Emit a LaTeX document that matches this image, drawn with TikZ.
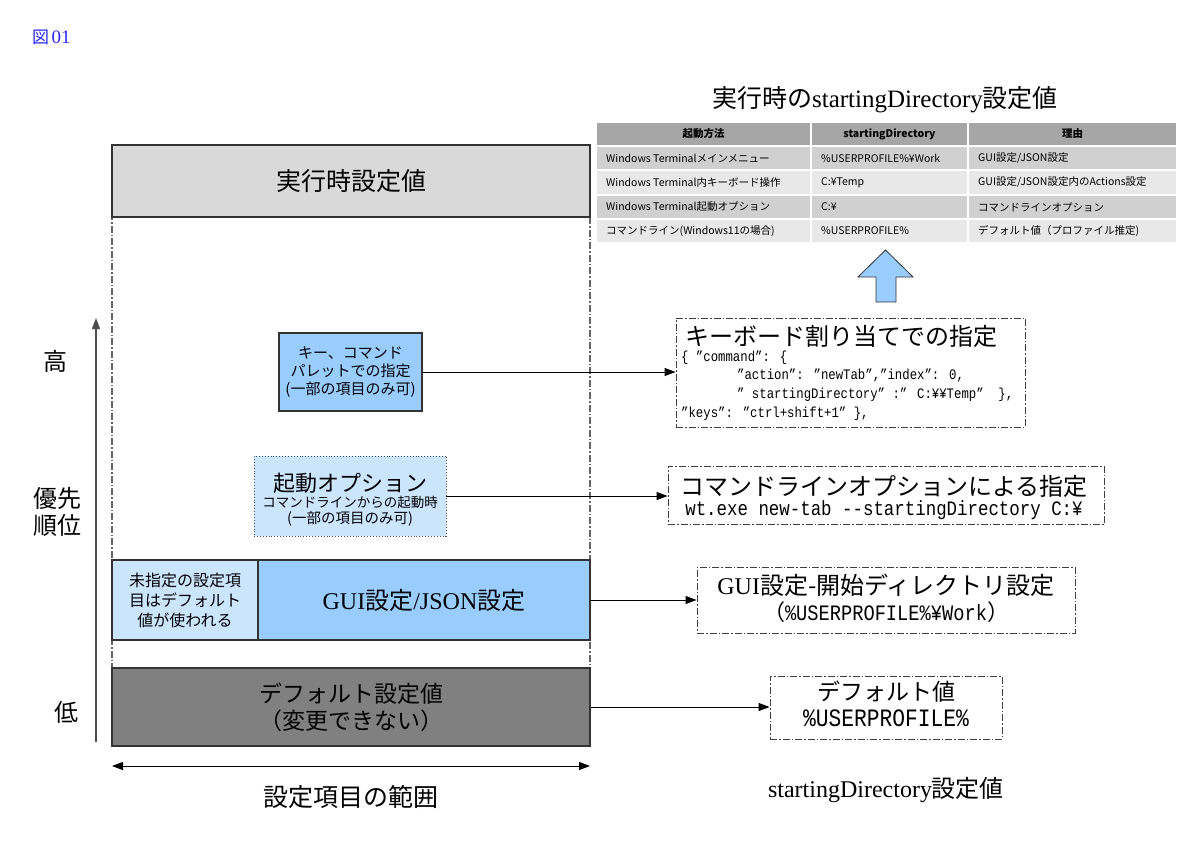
\documentclass[tikz,border=0pt]{standalone}
\usepackage{fontspec}
\setmainfont{Liberation Serif}
\newfontfamily\jp{Noto Sans CJK JP}
\newfontfamily\mono[FakeStretch=0.85]{Liberation Mono}
\usetikzlibrary{arrows.meta}
\newcommand\fs[2]{\fontsize{#1}{#2}\selectfont}
\definecolor{blueA}{HTML}{99CCFF}
\definecolor{blueB}{HTML}{CCE5FF}
\definecolor{grayTop}{HTML}{D9D9D9}
\definecolor{grayDef}{HTML}{808080}
\definecolor{hdr}{HTML}{A6A6A6}
\definecolor{rowA}{HTML}{D0D0D0}
\definecolor{rowB}{HTML}{E8E8E8}
\definecolor{figblue}{HTML}{2828FF}
\tikzset{
  solidbox/.style={draw=black!80, line width=1.2pt, inner sep=0pt, align=center},
  dotbox/.style={draw=black!70, dotted, line width=0.9pt, inner sep=0pt},
  dashdotbox/.style={draw=black!75, line width=0.9pt, dash pattern=on 7pt off 2pt on 1.5pt off 2pt, inner sep=0pt},
  rangebox/.style={draw=black!60, line width=1.2pt, dash pattern=on 7pt off 2pt on 1.5pt off 2pt, inner sep=0pt},
  arr/.style={line width=0.9pt, -{Triangle[length=11pt,width=8pt]}},
  darr/.style={line width=0.9pt, {Triangle[length=11pt,width=8pt]}-{Triangle[length=11pt,width=8pt]}},
  cell/.style={inner sep=0pt, font=\jp\fs{10.5}{12}},
  lbl/.style={inner sep=0pt, align=center},
}
\begin{document}
\begin{tikzpicture}[x=1pt,y=-1pt]
\useasboundingbox[fill=white] (0,0) rectangle (1200,849);

% figure label
\node[lbl, text=figblue, anchor=west] (fig) at (32,37) {{\jp\fs{17}{19}図} {\fs{19}{20}01}};

% left diagram
\node[rangebox, minimum width=478, minimum height=601] (range) at (351,445.5) {};
\node[solidbox, fill=grayTop, minimum width=478, minimum height=72, font=\jp\fs{25}{30}] (run) at (351,181) {実行時設定値};
\node[solidbox, fill=blueB, minimum width=146, minimum height=80, font=\jp\fs{16}{20}] (guiL) at (185,600) {未指定の設定項\\目はデフォルト\\値が使われる};
\node[solidbox, fill=blueA, minimum width=332, minimum height=80, font=\fs{24}{28}] (guiR) at (424,600) {GUI{\jp 設定}/JSON{\jp 設定}};
\node[solidbox, fill=grayDef, text=black, minimum width=478, minimum height=78, font=\jp\fs{23}{27}] (def) at (351,707) {デフォルト設定値\\（変更できない）};
\node[solidbox, fill=blueA, minimum width=143, minimum height=78, font=\jp\fs{15}{18}] (key) at (350.5,372) {キー、コマンド\\パレットでの指定\\(一部の項目のみ可)};
\node[dotbox, fill=blueB, minimum width=192, minimum height=80] (launch) at (350,496) {};
\node[lbl, font=\jp\fs{22}{26}] (launchT) at (350,483) {起動オプション};
\node[lbl, font=\jp\fs{13.5}{16}] (launchS) at (350,511) {コマンドラインからの起動時\\{\fs{14.5}{16}(一部の項目のみ可)}};

% axes
\coordinate (vlo) at (96,742);
\coordinate (vhi) at (96,318);
\draw[arr, draw=black!70, line width=1.3pt] (vlo) -- (vhi);
\coordinate (hl) at (112,766);
\coordinate (hr) at (590,766);
\draw[darr] (hl) -- (hr);
\node[lbl, font=\jp\fs{24}{26}] (hi) at (55,361) {高};
\node[lbl, font=\jp\fs{24}{27}] (prio) at (57,512) {優先\\順位};
\node[lbl, font=\jp\fs{24}{26}] (lo) at (66,712) {低};
\node[lbl, font=\jp\fs{25}{28}] (rng) at (351,797) {設定項目の範囲};

% right boxes
\node[dashdotbox, minimum width=349, minimum height=109] (kb) at (850.5,372.5) {};
\node[lbl, anchor=west, font=\jp\fs{24}{26}] (kbT) at (685,336) {キーボード割り当てでの指定};
\node[lbl, anchor=west, align=left, font=\mono\fs{14.5}{18.7}] (kbC) at (681,385.5)
 {\{ ”command”: \{\\
  \hspace*{56pt}”action”: ”newTab”,”index”: 0,\\
  \hspace*{56pt}” startingDirectory” :” C:¥¥Temp”\ \ \},\\
  ”keys”: ”ctrl+shift+1” \},};

\node[dashdotbox, minimum width=436, minimum height=58] (cmd) at (886,495) {};
\node[lbl, font=\jp\fs{24}{26}] (cmdT) at (884,486) {コマンドラインオプションによる指定};
\node[lbl, font=\mono\fs{20.5}{24}] (cmdC) at (884,510) {wt.exe new-tab --startingDirectory C:¥};

\node[dashdotbox, minimum width=378, minimum height=66] (guib) at (886,600) {};
\node[lbl, font=\fs{24}{27}] (guibT) at (886,585) {GUI{\jp 設定-開始ディレクトリ設定}};
\node[lbl] (guibC) at (886,612) {{\jp\fs{22}{26}（}{\mono\fs{22}{26}\%USERPROFILE\%¥Work}{\jp\fs{22}{26}）}};

\node[dashdotbox, minimum width=232, minimum height=63] (defb) at (886,707.5) {};
\node[lbl, font=\jp\fs{23}{26}] (defbT) at (886,692) {デフォルト値};
\node[lbl, font=\mono\fs{25}{27}] (defbC) at (886,718) {\%USERPROFILE\%};
\node[lbl, font=\fs{24}{28}] (sdv) at (886,790) {startingDirectory{\jp 設定値}};

% connectors
\draw[arr] (key.east) -- (key.east -| kb.west);
\draw[arr] (launch.east) -- (launch.east -| cmd.west);
\draw[arr] (guiR.east) -- (guiR.east -| guib.west);
\draw[arr] (def.east) -- (def.east -| defb.west);

% up block arrow
\draw[fill=blueA, draw=black!80, line width=0.8pt] (885.5,250) -- (913,277) -- (896,277) -- (896,302) -- (876,302) -- (876,277) -- (858,277) -- cycle;

% table
\node[lbl, font=\fs{25}{28}] (ttl) at (885,100) {{\jp 実行時の}startingDirectory{\jp 設定値}};
\def\cA{596}\def\cB{811}\def\cC{968}\def\cD{1177}
\foreach \ya/\yb/\col in {122/146/hdr,146/170/rowA,170/195/rowB,195/219/rowA,219/243/rowB}{
  \foreach \xa/\xb in {\cA/\cB,\cB/\cC,\cC/\cD}{
    \draw[fill=\col, draw=white, line width=1.5pt] (\xa,\ya) rectangle (\xb,\yb);
  }
}
\node[cell, font=\jp\bfseries\fs{10.5}{12}] (h1) at (703.5,134) {起動方法};
\node[cell, font=\jp\bfseries\fs{10.5}{12}] (h2) at (889.5,134) {startingDirectory};
\node[cell, font=\jp\bfseries\fs{10.5}{12}] (h3) at (1072.5,134) {理由};
\node[cell, anchor=west] (r11) at (606,158) {Windows Terminalメインメニュー};
\node[cell, anchor=west] (r12) at (821,158) {\%USERPROFILE\%¥Work};
\node[cell, anchor=west] (r13) at (978,158) {GUI設定/JSON設定};
\node[cell, anchor=west] (r21) at (606,182.5) {Windows Terminal内キーボード操作};
\node[cell, anchor=west] (r22) at (821,182.5) {C:¥Temp};
\node[cell, anchor=west] (r23) at (978,182.5) {GUI設定/JSON設定内のActions設定};
\node[cell, anchor=west] (r31) at (606,207) {Windows Terminal起動オプション};
\node[cell, anchor=west] (r32) at (821,207) {C:¥};
\node[cell, anchor=west] (r33) at (978,207) {コマンドラインオプション};
\node[cell, anchor=west] (r41) at (606,231) {コマンドライン(Windows11の場合)};
\node[cell, anchor=west] (r42) at (821,231) {\%USERPROFILE\%};
\node[cell, anchor=west] (r43) at (978,231) {デフォルト値（プロファイル推定)};
\end{tikzpicture}
\end{document}
